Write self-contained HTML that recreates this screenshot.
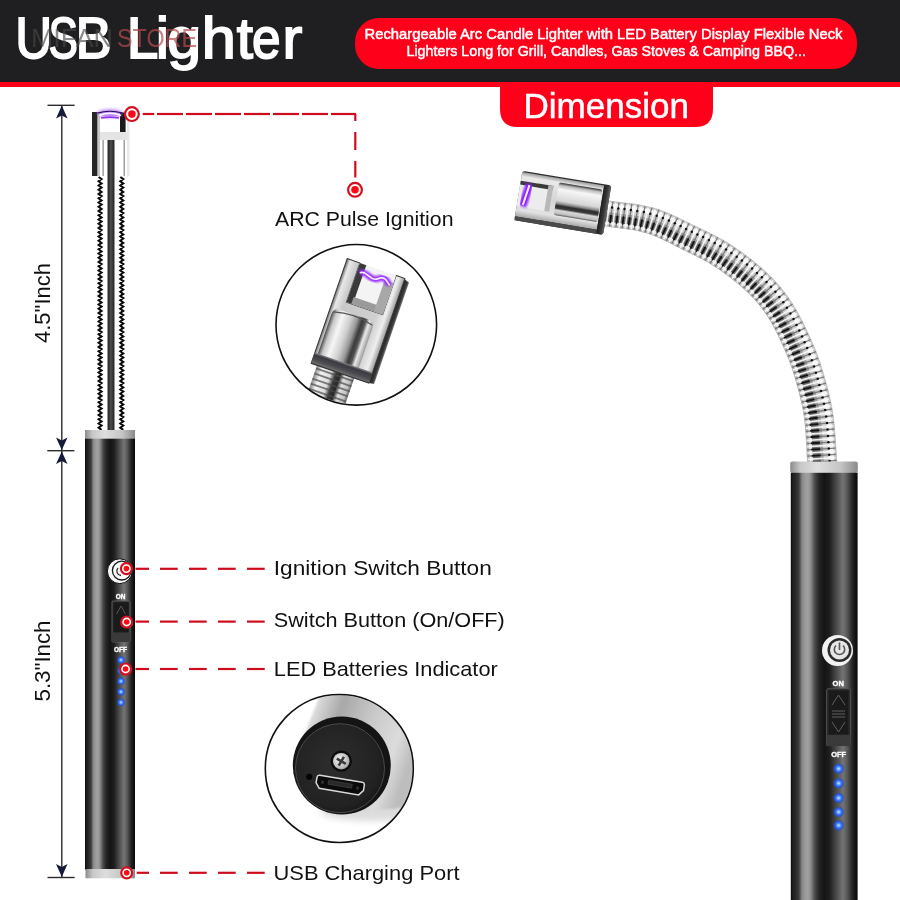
<!DOCTYPE html>
<html><head><meta charset="utf-8">
<style>
html,body{margin:0;padding:0;background:#fff;width:900px;height:900px;overflow:hidden}
svg{display:block;will-change:transform}
text{font-family:"Liberation Sans",sans-serif}
</style></head>
<body>
<svg width="900" height="900" viewBox="0 0 900 900">
<defs>
  <linearGradient id="bodyG" x1="0" x2="1" y1="0" y2="0">
    <stop offset="0" stop-color="#080808"/>
    <stop offset="0.02" stop-color="#1a1a1a"/>
    <stop offset="0.08" stop-color="#2c2c2c"/>
    <stop offset="0.12" stop-color="#3c3c3c"/>
    <stop offset="0.17" stop-color="#8a8a8a"/>
    <stop offset="0.22" stop-color="#9c9c9c"/>
    <stop offset="0.26" stop-color="#a0a0a0"/>
    <stop offset="0.3" stop-color="#8a8a8a"/>
    <stop offset="0.36" stop-color="#4a4a4a"/>
    <stop offset="0.42" stop-color="#262626"/>
    <stop offset="0.5" stop-color="#141414"/>
    <stop offset="0.58" stop-color="#1e1e1e"/>
    <stop offset="0.68" stop-color="#4a4a4a"/>
    <stop offset="0.78" stop-color="#747474"/>
    <stop offset="0.84" stop-color="#5a5a5a"/>
    <stop offset="0.92" stop-color="#262626"/>
    <stop offset="0.97" stop-color="#111111"/>
    <stop offset="1" stop-color="#080808"/>
  </linearGradient>
  <linearGradient id="ringG" x1="0" x2="1" y1="0" y2="0">
    <stop offset="0" stop-color="#8c8c8c"/>
    <stop offset="0.15" stop-color="#c8c8c8"/>
    <stop offset="0.4" stop-color="#dedede"/>
    <stop offset="0.75" stop-color="#c4c4c4"/>
    <stop offset="1" stop-color="#8a8a8a"/>
  </linearGradient>

  <linearGradient id="bodyG2" x1="0" x2="1" y1="0" y2="0">
    <stop offset="0" stop-color="#080808"/>
    <stop offset="0.02" stop-color="#1a1a1a"/>
    <stop offset="0.08" stop-color="#2c2c2c"/>
    <stop offset="0.12" stop-color="#3c3c3c"/>
    <stop offset="0.17" stop-color="#8a8a8a"/>
    <stop offset="0.22" stop-color="#9c9c9c"/>
    <stop offset="0.26" stop-color="#a0a0a0"/>
    <stop offset="0.3" stop-color="#8a8a8a"/>
    <stop offset="0.36" stop-color="#4a4a4a"/>
    <stop offset="0.42" stop-color="#262626"/>
    <stop offset="0.5" stop-color="#141414"/>
    <stop offset="0.58" stop-color="#1e1e1e"/>
    <stop offset="0.68" stop-color="#4a4a4a"/>
    <stop offset="0.78" stop-color="#747474"/>
    <stop offset="0.84" stop-color="#5a5a5a"/>
    <stop offset="0.92" stop-color="#262626"/>
    <stop offset="0.97" stop-color="#111111"/>
    <stop offset="1" stop-color="#080808"/>
  </linearGradient>
  <linearGradient id="headV" x1="0" x2="0" y1="0" y2="1">
    <stop offset="0" stop-color="#9a9a9a"/>
    <stop offset="0.08" stop-color="#e8e8e8"/>
    <stop offset="0.5" stop-color="#cfcfcf"/>
    <stop offset="0.85" stop-color="#a0a0a0"/>
    <stop offset="1" stop-color="#3a3a3a"/>
  </linearGradient>
  <linearGradient id="barrelV" x1="0" x2="0" y1="0" y2="1">
    <stop offset="0" stop-color="#7a7a7a"/>
    <stop offset="0.2" stop-color="#f2f2f2"/>
    <stop offset="0.45" stop-color="#bdbdbd"/>
    <stop offset="0.7" stop-color="#6a6a6a"/>
    <stop offset="0.85" stop-color="#d8d8d8"/>
    <stop offset="1" stop-color="#8a8a8a"/>
  </linearGradient>
  <radialGradient id="ledG">
    <stop offset="0" stop-color="#d8ecff"/>
    <stop offset="0.3" stop-color="#5a9aff"/>
    <stop offset="0.55" stop-color="#2a62ff"/>
    <stop offset="0.8" stop-color="#1d4fd0" stop-opacity="0.5"/>
    <stop offset="1" stop-color="#1d4fd0" stop-opacity="0"/>
  </radialGradient>

  <filter id="blur2" x="-50%" y="-50%" width="200%" height="200%"><feGaussianBlur stdDeviation="1.6"/></filter>
  <filter id="blur1" x="-50%" y="-50%" width="200%" height="200%"><feGaussianBlur stdDeviation="0.9"/></filter>

  <linearGradient id="rheadV" x1="0" x2="0" y1="0" y2="1">
    <stop offset="0" stop-color="#9a9a9a"/>
    <stop offset="0.1" stop-color="#eaeaea"/>
    <stop offset="0.5" stop-color="#d4d4d4"/>
    <stop offset="0.85" stop-color="#e2e2e2"/>
    <stop offset="1" stop-color="#a8a8a8"/>
  </linearGradient>
  <linearGradient id="rbarrel" x1="0" x2="0" y1="0" y2="1">
    <stop offset="0" stop-color="#333"/>
    <stop offset="0.08" stop-color="#bdbdbd"/>
    <stop offset="0.2" stop-color="#f6f6f6"/>
    <stop offset="0.55" stop-color="#d6d6d6"/>
    <stop offset="0.64" stop-color="#8a8a8a"/>
    <stop offset="0.7" stop-color="#2e2e2e"/>
    <stop offset="0.78" stop-color="#3a3a3a"/>
    <stop offset="0.84" stop-color="#d8d8d8"/>
    <stop offset="0.94" stop-color="#c0c0c0"/>
    <stop offset="1" stop-color="#555"/>
  </linearGradient>
  <linearGradient id="rend" x1="0" x2="1" y1="0" y2="0">
    <stop offset="0" stop-color="#1c1c1c"/>
    <stop offset="0.6" stop-color="#3a3a3a"/>
    <stop offset="1" stop-color="#6a6a6a"/>
  </linearGradient>

  <filter id="blur3" x="-50%" y="-50%" width="200%" height="200%"><feGaussianBlur stdDeviation="3"/></filter>

  <linearGradient id="coilA" x1="0" x2="1" y1="0" y2="0">
    <stop offset="0" stop-color="#8a8a8a"/>
    <stop offset="0.15" stop-color="#f2f2f2"/>
    <stop offset="0.4" stop-color="#dcdcdc"/>
    <stop offset="0.52" stop-color="#3a3a3a"/>
    <stop offset="0.64" stop-color="#262626"/>
    <stop offset="0.75" stop-color="#e0e0e0"/>
    <stop offset="0.92" stop-color="#c0c0c0"/>
    <stop offset="1" stop-color="#666"/>
  </linearGradient>
  <linearGradient id="sideA" x1="0" x2="1" y1="0" y2="0">
    <stop offset="0" stop-color="#1e1e1e"/>
    <stop offset="0.7" stop-color="#3a3a3a"/>
    <stop offset="1" stop-color="#777"/>
  </linearGradient>
  <linearGradient id="rimA" x1="0" x2="0" y1="0" y2="1">
    <stop offset="0" stop-color="#8a8a8a"/>
    <stop offset="0.2" stop-color="#3a3a40"/>
    <stop offset="0.6" stop-color="#4a4a50"/>
    <stop offset="0.9" stop-color="#6a6a6a"/>
    <stop offset="1" stop-color="#2a2a2a"/>
  </linearGradient>
  <linearGradient id="floorU" x1="0" x2="0" y1="0" y2="1">
    <stop offset="0" stop-color="#e4e4e4"/>
    <stop offset="0.5" stop-color="#f2f2f2"/>
    <stop offset="1" stop-color="#fbfbfb"/>
  </linearGradient>
  <linearGradient id="chromeA" x1="0" x2="1" y1="0" y2="0">
    <stop offset="0" stop-color="#6a6a6a"/>
    <stop offset="0.06" stop-color="#e8e8e8"/>
    <stop offset="0.2" stop-color="#c8c8c8"/>
    <stop offset="0.75" stop-color="#d0d0d0"/>
    <stop offset="0.9" stop-color="#eeeeee"/>
    <stop offset="1" stop-color="#9a9a9a"/>
  </linearGradient>
  <linearGradient id="barrelA" x1="0" x2="1" y1="0" y2="0">
    <stop offset="0" stop-color="#4a4a4a"/>
    <stop offset="0.1" stop-color="#c8c8c8"/>
    <stop offset="0.25" stop-color="#f6f6f6"/>
    <stop offset="0.45" stop-color="#d0d0d0"/>
    <stop offset="0.6" stop-color="#9a9a9a"/>
    <stop offset="0.72" stop-color="#3a3a3a"/>
    <stop offset="0.8" stop-color="#555"/>
    <stop offset="0.88" stop-color="#eaeaea"/>
    <stop offset="1" stop-color="#9a9a9a"/>
  </linearGradient>
  <linearGradient id="silverU" x1="0" y1="0" x2="1" y2="0.35">
    <stop offset="0" stop-color="#ffffff"/>
    <stop offset="0.12" stop-color="#e8e8e8"/>
    <stop offset="0.35" stop-color="#a8a8a8"/>
    <stop offset="0.6" stop-color="#c8c8c8"/>
    <stop offset="0.85" stop-color="#dcdcdc"/>
    <stop offset="1" stop-color="#bdbdbd"/>
  </linearGradient>
  <radialGradient id="faceU" cx="0.45" cy="0.45" r="0.6">
    <stop offset="0" stop-color="#2e2e2e"/>
    <stop offset="0.8" stop-color="#222"/>
    <stop offset="1" stop-color="#161616"/>
  </radialGradient>
  <radialGradient id="screwU" cx="0.4" cy="0.4" r="0.7">
    <stop offset="0" stop-color="#f4f4f4"/>
    <stop offset="0.7" stop-color="#bdbdbd"/>
    <stop offset="1" stop-color="#888"/>
  </radialGradient>
</defs>
<!-- header -->
<rect x="0" y="0" width="900" height="82" fill="#1f1f21"/>
<rect x="0" y="82" width="900" height="5" fill="#fe0019"/>
<g font-size="58" fill="#fff" stroke="#fff" stroke-width="1.8"><text transform="translate(15.2 57.8) scale(0.882 1)" stroke="#1f1f21" stroke-width="4.6" fill="#1f1f21">U</text><text transform="translate(15.2 57.8) scale(0.882 1)">U</text><text transform="translate(48.5 57.8) scale(0.763 1)" stroke="#1f1f21" stroke-width="4.6" fill="#1f1f21">S</text><text transform="translate(48.5 57.8) scale(0.763 1)">S</text><text transform="translate(75.5 57.8) scale(0.938 1)" stroke="#1f1f21" stroke-width="4.6" fill="#1f1f21">B</text><text transform="translate(75.5 57.8) scale(0.938 1)">B</text><text transform="translate(126.5 57.8) scale(1.026 1)" stroke="#1f1f21" stroke-width="4.6" fill="#1f1f21">L</text><text transform="translate(126.5 57.8) scale(1.026 1)">L</text><text transform="translate(155.8 57.8) scale(1.029 1)" stroke="#1f1f21" stroke-width="4.6" fill="#1f1f21">i</text><text transform="translate(155.8 57.8) scale(1.029 1)">i</text><text transform="translate(167.3 57.8) scale(1.052 1)" stroke="#1f1f21" stroke-width="4.6" fill="#1f1f21">g</text><text transform="translate(167.3 57.8) scale(1.052 1)">g</text><text transform="translate(201.7 57.8) scale(1.058 1)" stroke="#1f1f21" stroke-width="4.6" fill="#1f1f21">h</text><text transform="translate(201.7 57.8) scale(1.058 1)">h</text><text transform="translate(236.7 57.8) scale(1.006 1)" stroke="#1f1f21" stroke-width="4.6" fill="#1f1f21">t</text><text transform="translate(236.7 57.8) scale(1.006 1)">t</text><text transform="translate(252.0 57.8) scale(0.886 1)" stroke="#1f1f21" stroke-width="4.6" fill="#1f1f21">e</text><text transform="translate(252.0 57.8) scale(0.886 1)">e</text><text transform="translate(282.5 57.8) scale(1.025 1)" stroke="#1f1f21" stroke-width="4.6" fill="#1f1f21">r</text><text transform="translate(282.5 57.8) scale(1.025 1)">r</text></g>
<g font-size="26">
  <text x="31" y="47" fill="#474747" fill-opacity="0.63" textLength="82" lengthAdjust="spacingAndGlyphs">MIFAN</text>
  <text x="117" y="47" fill="#b84a50" fill-opacity="0.7" textLength="80" lengthAdjust="spacingAndGlyphs">STORE</text>
</g>
<rect x="355" y="18" width="502" height="51" rx="24" fill="#fe0019"/>
<g font-size="15.5" fill="#fff" stroke="#fff" stroke-width="0.5">
  <text x="364.5" y="38.6" textLength="478" lengthAdjust="spacingAndGlyphs">Rechargeable Arc Candle Lighter with LED Battery Display Flexible Neck</text>
  <text x="406.5" y="56.3" textLength="399.5" lengthAdjust="spacingAndGlyphs">Lighters Long for Grill, Candles, Gas Stoves &amp; Camping BBQ...</text>
</g>
<path d="M500 85 H713 V109 Q713 127 695 127 H518 Q500 127 500 109 Z" fill="#fe0019"/>
<text x="523.5" y="117.8" font-size="34.5" fill="#fff" stroke="#fff" stroke-width="0.5" textLength="165.5" lengthAdjust="spacingAndGlyphs">Dimension</text>


<!-- dimension lines -->
<g stroke="#2b2b2b" stroke-width="1.4" fill="none">
  <line x1="61.8" y1="106" x2="61.8" y2="877"/>
  <line x1="47.5" y1="105.3" x2="74.6" y2="105.3"/>
  <line x1="47.3" y1="450.7" x2="74.4" y2="450.7"/>
  <line x1="47.5" y1="877.5" x2="74.7" y2="877.5"/>
</g>
<g fill="#151a3a">
  <path d="M61.8 105.5 L67.5 118.5 L61.8 115.5 L56 118.5 Z"/>
  <path d="M61.8 450 L67.5 437.5 L61.8 440.5 L56 437.5 Z"/>
  <path d="M61.8 451.4 L67.5 464 L61.8 461 L56 464 Z"/>
  <path d="M61.8 877 L67.5 864 L61.8 867 L56 864 Z"/>
</g>
<text transform="translate(49.8 343) rotate(-90)" font-size="22" fill="#111" textLength="80" lengthAdjust="spacingAndGlyphs">4.5"Inch</text>
<text transform="translate(49.8 701.5) rotate(-90)" font-size="22" fill="#111" textLength="81" lengthAdjust="spacingAndGlyphs">5.3"Inch</text>


<!-- left lighter neck -->
<g id="leftNeck">
  <rect x="107.5" y="140" width="7" height="291" fill="#2e2e2e"/>
  <rect x="109.5" y="140" width="3" height="291" fill="#474747"/>
</g>

<polyline points="98.6,177.00 101.6,179.12 98.6,181.25 101.6,183.38 98.6,185.50 101.6,187.62 98.6,189.75 101.6,191.88 98.6,194.00 101.6,196.12 98.6,198.25 101.6,200.38 98.6,202.50 101.6,204.62 98.6,206.75 101.6,208.88 98.6,211.00 101.6,213.12 98.6,215.25 101.6,217.38 98.6,219.50 101.6,221.62 98.6,223.75 101.6,225.88 98.6,228.00 101.6,230.12 98.6,232.25 101.6,234.38 98.6,236.50 101.6,238.62 98.6,240.75 101.6,242.88 98.6,245.00 101.6,247.12 98.6,249.25 101.6,251.38 98.6,253.50 101.6,255.62 98.6,257.75 101.6,259.88 98.6,262.00 101.6,264.12 98.6,266.25 101.6,268.38 98.6,270.50 101.6,272.62 98.6,274.75 101.6,276.88 98.6,279.00 101.6,281.12 98.6,283.25 101.6,285.38 98.6,287.50 101.6,289.62 98.6,291.75 101.6,293.88 98.6,296.00 101.6,298.12 98.6,300.25 101.6,302.38 98.6,304.50 101.6,306.62 98.6,308.75 101.6,310.88 98.6,313.00 101.6,315.12 98.6,317.25 101.6,319.38 98.6,321.50 101.6,323.62 98.6,325.75 101.6,327.88 98.6,330.00 101.6,332.12 98.6,334.25 101.6,336.38 98.6,338.50 101.6,340.62 98.6,342.75 101.6,344.88 98.6,347.00 101.6,349.12 98.6,351.25 101.6,353.38 98.6,355.50 101.6,357.62 98.6,359.75 101.6,361.88 98.6,364.00 101.6,366.12 98.6,368.25 101.6,370.38 98.6,372.50 101.6,374.62 98.6,376.75 101.6,378.88 98.6,381.00 101.6,383.12 98.6,385.25 101.6,387.38 98.6,389.50 101.6,391.62 98.6,393.75 101.6,395.88 98.6,398.00 101.6,400.12 98.6,402.25 101.6,404.38 98.6,406.50 101.6,408.62 98.6,410.75 101.6,412.88 98.6,415.00 101.6,417.12 98.6,419.25 101.6,421.38 98.6,423.50 101.6,425.62 98.6,427.75 101.6,429.88" fill="none" stroke="#0a0a0a" stroke-width="2"/>
<polyline points="120.3,177.00 123.3,179.12 120.3,181.25 123.3,183.38 120.3,185.50 123.3,187.62 120.3,189.75 123.3,191.88 120.3,194.00 123.3,196.12 120.3,198.25 123.3,200.38 120.3,202.50 123.3,204.62 120.3,206.75 123.3,208.88 120.3,211.00 123.3,213.12 120.3,215.25 123.3,217.38 120.3,219.50 123.3,221.62 120.3,223.75 123.3,225.88 120.3,228.00 123.3,230.12 120.3,232.25 123.3,234.38 120.3,236.50 123.3,238.62 120.3,240.75 123.3,242.88 120.3,245.00 123.3,247.12 120.3,249.25 123.3,251.38 120.3,253.50 123.3,255.62 120.3,257.75 123.3,259.88 120.3,262.00 123.3,264.12 120.3,266.25 123.3,268.38 120.3,270.50 123.3,272.62 120.3,274.75 123.3,276.88 120.3,279.00 123.3,281.12 120.3,283.25 123.3,285.38 120.3,287.50 123.3,289.62 120.3,291.75 123.3,293.88 120.3,296.00 123.3,298.12 120.3,300.25 123.3,302.38 120.3,304.50 123.3,306.62 120.3,308.75 123.3,310.88 120.3,313.00 123.3,315.12 120.3,317.25 123.3,319.38 120.3,321.50 123.3,323.62 120.3,325.75 123.3,327.88 120.3,330.00 123.3,332.12 120.3,334.25 123.3,336.38 120.3,338.50 123.3,340.62 120.3,342.75 123.3,344.88 120.3,347.00 123.3,349.12 120.3,351.25 123.3,353.38 120.3,355.50 123.3,357.62 120.3,359.75 123.3,361.88 120.3,364.00 123.3,366.12 120.3,368.25 123.3,370.38 120.3,372.50 123.3,374.62 120.3,376.75 123.3,378.88 120.3,381.00 123.3,383.12 120.3,385.25 123.3,387.38 120.3,389.50 123.3,391.62 120.3,393.75 123.3,395.88 120.3,398.00 123.3,400.12 120.3,402.25 123.3,404.38 120.3,406.50 123.3,408.62 120.3,410.75 123.3,412.88 120.3,415.00 123.3,417.12 120.3,419.25 123.3,421.38 120.3,423.50 123.3,425.62 120.3,427.75 123.3,429.88" fill="none" stroke="#0a0a0a" stroke-width="2"/>
<!-- left head -->
<g id="leftHead">
  <rect x="92" y="112" width="5.6" height="64" fill="#262626"/>
  <rect x="97.6" y="112" width="2.4" height="64" fill="#c8c8c8"/>
  <rect x="100" y="132" width="27" height="8" fill="#e4e4e4"/>
  <rect x="120" y="112.5" width="5.6" height="19.5" fill="#1a1a1a"/>
  <rect x="102.5" y="140" width="1.2" height="36" fill="#888"/>
  <rect x="123.6" y="140" width="1.2" height="36" fill="#888"/>
  <rect x="127" y="112" width="2.5" height="64" fill="#e8e8e8"/>
  <ellipse cx="110" cy="113.5" rx="13" ry="4.2" fill="#9a40ff" filter="url(#blur2)" opacity="0.65"/>
  <path d="M97.5 113 Q110 109.5 122.5 113" stroke="#2a0a50" stroke-width="1.2" fill="none"/>
  <path d="M99 115.5 Q110 111 121 115.5" stroke="#fff" stroke-width="1.6" fill="none"/>
  <path d="M101 118 Q110 116.5 119 118" stroke="#7a10e0" stroke-width="1.4" fill="none" opacity="0.8"/>
</g>

<!-- left body -->
<rect x="85" y="430" width="50" height="9" fill="url(#ringG)"/>
<rect x="85" y="438.7" width="50" height="431" fill="url(#bodyG)"/>
<rect x="85.5" y="869" width="49.5" height="9.3" fill="url(#ringG)"/>
<!-- left body features -->
<circle cx="119.8" cy="571.2" r="12.4" fill="#f6f6f6" stroke="#0c0c0c" stroke-width="1"/>
<circle cx="121.8" cy="570.6" r="9.4" fill="#fbfbfb" stroke="#1a1a1a" stroke-width="1.3"/>
<path d="M118 568 A4.5 4.5 0 0 0 121 575.5" stroke="#333" stroke-width="1.3" fill="none"/>
<text x="120.5" y="598.5" font-size="6.5" font-weight="bold" fill="#fff" stroke="#fff" stroke-width="0.35" text-anchor="middle">ON</text>
<rect x="112" y="601" width="18" height="41" rx="1" fill="#262626" stroke="#6a6a6a" stroke-width="0.8"/>
<rect x="113.5" y="602.5" width="15" height="30" fill="#1a1a1a"/>
<rect x="112" y="632.5" width="18" height="9.5" fill="#3a3a3a"/>
<path d="M116.5 614 L121 606 L125.5 614" stroke="#666" stroke-width="0.8" fill="none"/>
<text x="120.5" y="651.5" font-size="6.5" font-weight="bold" fill="#fff" stroke="#fff" stroke-width="0.35" text-anchor="middle">OFF</text>
<circle cx="121" cy="660" r="4.6" fill="url(#ledG)"/>
<circle cx="121" cy="670.6" r="4.6" fill="url(#ledG)"/>
<circle cx="121" cy="681.2" r="4.6" fill="url(#ledG)"/>
<circle cx="121" cy="691.8" r="4.6" fill="url(#ledG)"/>
<circle cx="121" cy="702.4" r="4.6" fill="url(#ledG)"/>

<!-- guides -->
<g stroke="#cf0c1e" stroke-width="2.2" fill="none">
<line x1="142.7" y1="114" x2="154.3" y2="114"/>
<line x1="157" y1="114" x2="183" y2="114"/>
<line x1="186" y1="114" x2="212" y2="114"/>
<line x1="215" y1="114" x2="241" y2="114"/>
<line x1="244" y1="114" x2="270" y2="114"/>
<line x1="273" y1="114" x2="299" y2="114"/>
<line x1="302" y1="114" x2="328" y2="114"/>
<line x1="331" y1="114" x2="356" y2="114"/>
<polyline points="355.3,114 355.3,121"/>
<line x1="355.3" y1="132" x2="355.3" y2="150"/>
<line x1="355.3" y1="161" x2="355.3" y2="177.5"/>
<line x1="135.5" y1="568.8" x2="149" y2="568.8"/>
<line x1="160" y1="568.8" x2="177.7" y2="568.8"/>
<line x1="189" y1="568.8" x2="206.7" y2="568.8"/>
<line x1="218" y1="568.8" x2="235.7" y2="568.8"/>
<line x1="247" y1="568.8" x2="264.7" y2="568.8"/>
<line x1="135.5" y1="621.6" x2="149" y2="621.6"/>
<line x1="160" y1="621.6" x2="177.7" y2="621.6"/>
<line x1="189" y1="621.6" x2="206.7" y2="621.6"/>
<line x1="218" y1="621.6" x2="235.7" y2="621.6"/>
<line x1="247" y1="621.6" x2="264.7" y2="621.6"/>
<line x1="135.5" y1="669" x2="149" y2="669"/>
<line x1="160" y1="669" x2="177.7" y2="669"/>
<line x1="189" y1="669" x2="206.7" y2="669"/>
<line x1="218" y1="669" x2="235.7" y2="669"/>
<line x1="247" y1="669" x2="264.7" y2="669"/>
<line x1="136.7" y1="872.8" x2="149" y2="872.8"/>
<line x1="160" y1="872.8" x2="177.7" y2="872.8"/>
<line x1="189" y1="872.8" x2="206.7" y2="872.8"/>
<line x1="218" y1="872.8" x2="235.7" y2="872.8"/>
<line x1="247" y1="872.8" x2="264.7" y2="872.8"/>
</g>
<circle cx="131.9" cy="114.1" r="6.9" fill="#fff" stroke="#d3101e" stroke-width="2.2"/><circle cx="131.9" cy="114.1" r="3.8" fill="#ff0a14"/>
<circle cx="355" cy="189.8" r="6.9" fill="#fff" stroke="#d3101e" stroke-width="2.2"/><circle cx="355" cy="189.8" r="3.8" fill="#ff0a14"/>
<circle cx="126.4" cy="568.6" r="5.5" fill="#fff" stroke="#d3101e" stroke-width="2.2"/><circle cx="126.4" cy="568.6" r="2.8" fill="#ff0a14"/>
<circle cx="126.7" cy="622" r="5.5" fill="#fff" stroke="#d3101e" stroke-width="2.2"/><circle cx="126.7" cy="622" r="2.8" fill="#ff0a14"/>
<circle cx="125.6" cy="669" r="5.5" fill="#fff" stroke="#d3101e" stroke-width="2.2"/><circle cx="125.6" cy="669" r="2.8" fill="#ff0a14"/>
<circle cx="126.7" cy="872.8" r="5.5" fill="#fff" stroke="#d3101e" stroke-width="2.2"/><circle cx="126.7" cy="872.8" r="2.8" fill="#ff0a14"/>
<g font-size="21" fill="#111">
  <text x="275" y="226" textLength="178.5" lengthAdjust="spacingAndGlyphs">ARC Pulse Ignition</text>
  <text x="273.8" y="575.3" textLength="218" lengthAdjust="spacingAndGlyphs">Ignition Switch Button</text>
  <text x="273.8" y="627.3" textLength="231" lengthAdjust="spacingAndGlyphs">Switch Button (On/OFF)</text>
  <text x="273.8" y="675.6" textLength="224" lengthAdjust="spacingAndGlyphs">LED Batteries Indicator</text>
  <text x="273.5" y="880.4" textLength="186" lengthAdjust="spacingAndGlyphs">USB Charging Port</text>
</g>


<clipPath id="clipA"><circle cx="356.3" cy="324.8" r="79.5"/></clipPath>
<circle cx="356.3" cy="324.8" r="80.3" fill="#fff"/>
<g clip-path="url(#clipA)">
<g transform="translate(347.2 258.6) rotate(19) scale(1.035)">
<rect x="6" y="100" width="38" height="60" fill="url(#coilA)"/>
<rect x="6" y="104.0" width="38" height="1.8" fill="#4a4a4a" opacity="0.7"/>
<rect x="6" y="109.2" width="38" height="1.8" fill="#4a4a4a" opacity="0.7"/>
<rect x="6" y="114.4" width="38" height="1.8" fill="#4a4a4a" opacity="0.7"/>
<rect x="6" y="119.6" width="38" height="1.8" fill="#4a4a4a" opacity="0.7"/>
<rect x="6" y="124.8" width="38" height="1.8" fill="#4a4a4a" opacity="0.7"/>
<rect x="6" y="130.0" width="38" height="1.8" fill="#4a4a4a" opacity="0.7"/>
<rect x="6" y="135.2" width="38" height="1.8" fill="#4a4a4a" opacity="0.7"/>
<rect x="6" y="140.4" width="38" height="1.8" fill="#4a4a4a" opacity="0.7"/>
<rect x="6" y="145.6" width="38" height="1.8" fill="#4a4a4a" opacity="0.7"/>
<rect x="6" y="150.8" width="38" height="1.8" fill="#4a4a4a" opacity="0.7"/>
<rect x="6" y="156.0" width="38" height="1.8" fill="#4a4a4a" opacity="0.7"/>
<rect x="6" y="161.2" width="38" height="1.8" fill="#4a4a4a" opacity="0.7"/>
<path d="M58 0.5 L64 2.5 L64 106 L58 107 Z" fill="url(#sideA)"/>
<path d="M0 0 H13 V40 H50 V0 H59 V107 H0 Z" fill="url(#chromeA)" stroke="#3a3a3a" stroke-width="1"/>
<rect x="13" y="0" width="37" height="40" fill="#f4f4f4"/>
<rect x="13" y="0" width="6.5" height="40" fill="#3a3a3a"/>
<path d="M18 33 H50 V40 H18 Z" fill="#9a9a9a"/>
<path d="M41 8 H50 V40 H41 Z" fill="#a8a8a8"/>
<path d="M3 56 Q3 49 10 49 H38 Q45 49 45 56 V100 H3 Z" fill="url(#barrelA)"/>
<path d="M4 53 Q24 47 44 53" stroke="#555" stroke-width="1.2" fill="none"/>
<rect x="0" y="96" width="59" height="11" fill="url(#rimA)"/>
<path d="M16 9 C 22 4, 28 14, 34 9 S 42 7, 47 11" stroke="#9a2cff" stroke-width="6" fill="none" filter="url(#blur1)"/>
<path d="M16 9 C 22 4, 28 14, 34 9 S 42 7, 47 11" stroke="#f6ecff" stroke-width="1.6" fill="none"/>
</g>
</g>
<circle cx="356.3" cy="324.8" r="80.3" fill="none" stroke="#111" stroke-width="1.6"/>
<clipPath id="clipU"><circle cx="339.3" cy="768.5" r="73.2"/></clipPath>
<circle cx="339.3" cy="768.5" r="74" fill="#fff"/>
<g clip-path="url(#clipU)">
<ellipse cx="372" cy="812" rx="52" ry="9" fill="#dcdcdc" filter="url(#blur3)"/>
<polygon points="322,690 420,690 420,806 362,812 300,745" fill="url(#silverU)" filter="url(#blur1)"/>
<ellipse cx="341.8" cy="765.5" rx="49" ry="49" fill="#141414"/>
<circle cx="340" cy="768.2" r="44.5" fill="url(#faceU)"/>
<circle cx="340" cy="768.2" r="44.5" fill="none" stroke="#4a4a4a" stroke-width="1"/>
<circle cx="341.3" cy="761.2" r="10.6" fill="#0c0c0c"/>
<circle cx="341.3" cy="761.2" r="8.3" fill="url(#screwU)"/>
<path d="M336.8 758.6 L345.8 763.8 M338.7 765.6 L343.9 756.8" stroke="#3a3a3a" stroke-width="2.6"/>
<g transform="translate(340 785.2) rotate(9.5)">
<path d="M-21.5 -6.5 H21.5 Q24 -6.5 24 -4 V1.5 L20 6.5 H-20 L-24 1.5 V-4 Q-24 -6.5 -21.5 -6.5 Z" fill="#0a0a0a" stroke="#d8d8d8" stroke-width="1.5"/>
<rect x="-12" y="-3" width="24" height="4" fill="#2a2a2a" stroke="#444" stroke-width="0.6"/>
<rect x="-19" y="-1.5" width="2.5" height="3" fill="#333"/><rect x="16.5" y="-1.5" width="2.5" height="3" fill="#333"/>
</g>
<circle cx="309.2" cy="776.8" r="3.1" fill="#050505"/>
</g>
<circle cx="339.3" cy="768.5" r="74" fill="none" stroke="#111" stroke-width="1.6"/>
<!-- right lighter -->
<g id="goose">
<polygon points="606.1,200.2 609.0,200.6 611.8,201.0 614.8,201.4 617.8,201.7 620.8,202.1 623.8,202.4 626.9,202.8 630.1,203.2 633.2,203.6 636.5,204.1 639.7,204.6 643.0,205.2 646.2,205.9 649.6,206.7 653.0,207.6 656.4,208.6 659.6,209.6 662.8,210.8 666.0,212.0 669.1,213.3 672.0,214.6 675.0,216.0 677.9,217.3 680.8,218.7 683.6,220.1 686.4,221.5 689.1,222.8 691.8,224.2 694.5,225.5 697.2,226.8 699.9,228.1 702.7,229.4 705.5,230.7 708.4,232.1 711.2,233.5 714.1,234.9 717.0,236.5 719.8,238.0 722.7,239.6 725.6,241.3 728.5,243.0 731.2,244.8 733.9,246.6 736.6,248.4 739.3,250.2 741.9,252.1 744.5,254.0 747.0,255.9 749.6,257.8 752.2,259.8 754.7,261.9 757.2,263.9 759.7,266.0 762.2,268.2 764.6,270.4 767.1,272.7 769.5,275.0 771.8,277.3 774.1,279.7 776.4,282.2 778.6,284.7 780.8,287.3 782.9,289.9 784.9,292.5 787.0,295.3 788.9,297.9 790.8,300.7 792.6,303.5 794.4,306.4 796.1,309.3 797.8,312.1 799.4,315.0 800.9,317.9 802.4,320.8 803.8,323.6 805.2,326.5 806.6,329.4 807.9,332.3 809.3,335.1 810.5,337.9 811.8,340.8 813.1,343.8 814.4,346.7 815.7,349.8 816.9,352.8 818.0,355.9 819.1,359.0 820.2,362.1 821.2,365.2 822.1,368.3 823.1,371.3 823.9,374.3 824.8,377.3 825.7,380.3 826.5,383.4 827.4,386.5 828.2,389.6 829.0,392.7 829.7,395.8 830.4,399.0 831.1,402.1 831.8,405.4 832.4,408.6 832.9,411.9 833.4,415.1 833.9,418.4 834.2,421.7 834.6,424.9 834.9,428.1 835.1,431.3 835.4,434.5 835.6,437.6 835.8,440.7 836.0,443.8 836.2,446.8 836.4,449.9 836.6,452.9 836.8,455.9 837.0,458.9 837.3,461.8 807.3,464.2 807.1,461.0 806.9,457.9 806.7,454.7 806.6,451.6 806.4,448.6 806.3,445.5 806.1,442.5 805.9,439.5 805.7,436.5 805.6,433.5 805.3,430.6 805.1,427.7 804.8,424.8 804.5,422.0 804.2,419.2 803.8,416.4 803.4,413.6 802.9,410.8 802.4,408.0 801.8,405.2 801.2,402.3 800.5,399.5 799.8,396.7 799.1,393.8 798.4,391.0 797.6,388.1 796.8,385.3 796.0,382.4 795.2,379.5 794.4,376.6 793.5,373.8 792.7,371.1 791.8,368.4 790.9,365.7 789.9,363.0 788.9,360.4 787.8,357.7 786.7,355.1 785.6,352.4 784.4,349.7 783.2,346.9 781.9,344.2 780.7,341.5 779.5,338.8 778.2,336.2 776.9,333.5 775.6,330.9 774.3,328.4 773.0,325.9 771.6,323.4 770.2,321.0 768.8,318.7 767.3,316.4 765.7,314.0 764.1,311.7 762.5,309.5 760.8,307.3 759.1,305.1 757.3,303.0 755.5,300.8 753.7,298.8 751.7,296.8 749.8,294.7 747.8,292.7 745.8,290.8 743.7,288.9 741.6,287.1 739.4,285.1 737.2,283.3 734.9,281.5 732.7,279.7 730.4,277.9 728.0,276.1 725.7,274.4 723.4,272.7 721.0,271.0 718.6,269.3 716.2,267.7 713.8,266.2 711.4,264.7 709.1,263.3 706.6,261.8 704.1,260.5 701.6,259.1 699.0,257.8 696.4,256.4 693.7,255.1 691.0,253.8 688.2,252.4 685.4,251.1 682.6,249.7 679.8,248.3 677.0,246.9 674.3,245.5 671.6,244.1 668.9,242.7 666.3,241.4 663.7,240.2 661.1,239.0 658.4,237.8 655.9,236.7 653.3,235.7 650.8,234.7 648.2,233.8 645.7,233.0 643.2,232.4 640.6,231.7 637.8,231.1 635.1,230.6 632.3,230.1 629.4,229.7 626.6,229.2 623.6,228.8 620.6,228.4 617.6,228.1 614.5,227.7 611.4,227.2 608.3,226.8 605.1,226.3 601.9,225.8" fill="#e2e2e2"/>
<polygon points="606.1,200.2 609.0,200.6 611.8,201.0 614.8,201.4 617.8,201.7 620.8,202.1 623.8,202.4 626.9,202.8 630.1,203.2 633.2,203.6 636.5,204.1 639.7,204.6 643.0,205.2 646.2,205.9 649.6,206.7 653.0,207.6 656.4,208.6 659.6,209.6 662.8,210.8 666.0,212.0 669.1,213.3 672.0,214.6 675.0,216.0 677.9,217.3 680.8,218.7 683.6,220.1 686.4,221.5 689.1,222.8 691.8,224.2 694.5,225.5 697.2,226.8 699.9,228.1 702.7,229.4 705.5,230.7 708.4,232.1 711.2,233.5 714.1,234.9 717.0,236.5 719.8,238.0 722.7,239.6 725.6,241.3 728.5,243.0 731.2,244.8 733.9,246.6 736.6,248.4 739.3,250.2 741.9,252.1 744.5,254.0 747.0,255.9 749.6,257.8 752.2,259.8 754.7,261.9 757.2,263.9 759.7,266.0 762.2,268.2 764.6,270.4 767.1,272.7 769.5,275.0 771.8,277.3 774.1,279.7 776.4,282.2 778.6,284.7 780.8,287.3 782.9,289.9 784.9,292.5 787.0,295.3 788.9,297.9 790.8,300.7 792.6,303.5 794.4,306.4 796.1,309.3 797.8,312.1 799.4,315.0 800.9,317.9 802.4,320.8 803.8,323.6 805.2,326.5 806.6,329.4 807.9,332.3 809.3,335.1 810.5,337.9 811.8,340.8 813.1,343.8 814.4,346.7 815.7,349.8 816.9,352.8 818.0,355.9 819.1,359.0 820.2,362.1 821.2,365.2 822.1,368.3 823.1,371.3 823.9,374.3 824.8,377.3 825.7,380.3 826.5,383.4 827.4,386.5 828.2,389.6 829.0,392.7 829.7,395.8 830.4,399.0 831.1,402.1 831.8,405.4 832.4,408.6 832.9,411.9 833.4,415.1 833.9,418.4 834.2,421.7 834.6,424.9 834.9,428.1 835.1,431.3 835.4,434.5 835.6,437.6 835.8,440.7 836.0,443.8 836.2,446.8 836.4,449.9 836.6,452.9 836.8,455.9 837.0,458.9 837.3,461.8 834.3,462.1 834.0,459.1 833.8,456.1 833.6,453.1 833.4,450.1 833.2,447.0 833.0,444.0 832.8,440.9 832.6,437.8 832.4,434.7 832.2,431.5 831.9,428.4 831.6,425.2 831.3,422.0 830.9,418.8 830.5,415.5 830.0,412.3 829.5,409.1 828.9,405.9 828.3,402.7 827.6,399.6 826.9,396.5 826.1,393.4 825.4,390.3 824.6,387.2 823.7,384.2 822.9,381.1 822.0,378.1 821.1,375.1 820.3,372.1 819.4,369.1 818.4,366.1 817.4,363.0 816.4,360.0 815.3,356.9 814.2,353.9 813.0,350.8 811.8,347.8 810.5,344.9 809.2,342.0 807.9,339.1 806.6,336.3 805.3,333.5 804.0,330.6 802.6,327.7 801.3,324.9 799.8,322.0 798.4,319.2 796.9,316.4 795.3,313.5 793.7,310.7 792.0,307.8 790.2,305.0 788.4,302.3 786.6,299.6 784.7,296.9 782.7,294.2 780.7,291.7 778.6,289.1 776.5,286.6 774.3,284.1 772.1,281.6 769.8,279.3 767.5,277.0 765.2,274.7 762.8,272.4 760.3,270.2 757.9,268.1 755.5,266.1 753.0,264.0 750.5,262.0 747.9,260.0 745.4,258.1 742.9,256.2 740.3,254.3 737.7,252.5 735.1,250.7 732.4,248.9 729.7,247.1 727.0,245.4 724.2,243.7 721.3,242.0 718.5,240.4 715.7,238.9 712.8,237.4 710.0,235.9 707.2,234.5 704.3,233.2 701.5,231.8 698.8,230.5 696.0,229.2 693.3,227.9 690.6,226.6 687.9,225.3 685.2,223.9 682.4,222.5 679.6,221.1 676.8,219.8 673.9,218.4 670.9,217.0 668.0,215.8 665.0,214.5 661.9,213.3 658.7,212.1 655.6,211.1 652.3,210.1 649.0,209.2 645.7,208.5 642.5,207.8 639.2,207.2 636.1,206.7 632.9,206.2 629.7,205.8 626.6,205.4 623.5,205.0 620.5,204.7 617.4,204.3 614.5,204.0 611.5,203.6 608.6,203.2 605.6,202.7" fill="#c4c4c4" opacity="1"/>
<polygon points="605.6,202.7 608.6,203.2 611.5,203.6 614.5,204.0 617.4,204.3 620.5,204.7 623.5,205.0 626.6,205.4 629.7,205.8 632.9,206.2 636.1,206.7 639.2,207.2 642.5,207.8 645.7,208.5 649.0,209.2 652.3,210.1 655.6,211.1 658.7,212.1 661.9,213.3 665.0,214.5 668.0,215.8 670.9,217.0 673.9,218.4 676.8,219.8 679.6,221.1 682.4,222.5 685.2,223.9 687.9,225.3 690.6,226.6 693.3,227.9 696.0,229.2 698.8,230.5 701.5,231.8 704.3,233.2 707.2,234.5 710.0,235.9 712.8,237.4 715.7,238.9 718.5,240.4 721.3,242.0 724.2,243.7 727.0,245.4 729.7,247.1 732.4,248.9 735.1,250.7 737.7,252.5 740.3,254.3 742.9,256.2 745.4,258.1 747.9,260.0 750.5,262.0 753.0,264.0 755.5,266.1 757.9,268.1 760.3,270.2 762.8,272.4 765.2,274.7 767.5,277.0 769.8,279.3 772.1,281.6 774.3,284.1 776.5,286.6 778.6,289.1 780.7,291.7 782.7,294.2 784.7,296.9 786.6,299.6 788.4,302.3 790.2,305.0 792.0,307.8 793.7,310.7 795.3,313.5 796.9,316.4 798.4,319.2 799.8,322.0 801.3,324.9 802.6,327.7 804.0,330.6 805.3,333.5 806.6,336.3 807.9,339.1 809.2,342.0 810.5,344.9 811.8,347.8 813.0,350.8 814.2,353.9 815.3,356.9 816.4,360.0 817.4,363.0 818.4,366.1 819.4,369.1 820.3,372.1 821.1,375.1 822.0,378.1 822.9,381.1 823.7,384.2 824.6,387.2 825.4,390.3 826.1,393.4 826.9,396.5 827.6,399.6 828.3,402.7 828.9,405.9 829.5,409.1 830.0,412.3 830.5,415.5 830.9,418.8 831.3,422.0 831.6,425.2 831.9,428.4 832.2,431.5 832.4,434.7 832.6,437.8 832.8,440.9 833.0,444.0 833.2,447.0 833.4,450.1 833.6,453.1 833.8,456.1 834.0,459.1 834.3,462.1 829.0,462.5 828.8,459.5 828.6,456.4 828.4,453.4 828.2,450.4 828.0,447.3 827.8,444.3 827.6,441.2 827.4,438.1 827.2,435.0 827.0,431.9 826.7,428.8 826.5,425.7 826.2,422.6 825.8,419.4 825.4,416.2 824.9,413.1 824.4,410.0 823.8,406.9 823.2,403.8 822.6,400.7 821.9,397.6 821.1,394.6 820.4,391.5 819.6,388.5 818.8,385.5 818.0,382.5 817.1,379.5 816.3,376.5 815.4,373.6 814.5,370.6 813.6,367.6 812.6,364.6 811.6,361.6 810.6,358.6 809.4,355.6 808.3,352.7 807.1,349.8 805.9,346.9 804.6,344.0 803.4,341.2 802.1,338.4 800.8,335.5 799.5,332.7 798.1,329.9 796.8,327.1 795.4,324.3 794.0,321.5 792.5,318.7 791.0,315.9 789.4,313.1 787.8,310.4 786.1,307.7 784.3,305.0 782.5,302.4 780.7,299.8 778.8,297.2 776.8,294.7 774.8,292.2 772.8,289.7 770.7,287.4 768.5,285.0 766.3,282.7 764.1,280.4 761.8,278.2 759.5,276.0 757.1,273.9 754.7,271.8 752.3,269.8 749.9,267.8 747.4,265.8 745.0,263.9 742.5,261.9 740.0,260.1 737.4,258.2 734.9,256.4 732.3,254.6 729.7,252.9 727.1,251.1 724.4,249.4 721.7,247.7 719.0,246.1 716.2,244.6 713.4,243.1 710.6,241.6 707.8,240.2 705.1,238.8 702.3,237.4 699.5,236.1 696.7,234.8 694.0,233.5 691.2,232.1 688.5,230.8 685.8,229.5 683.1,228.1 680.3,226.7 677.5,225.3 674.7,224.0 671.9,222.6 669.0,221.3 666.1,220.0 663.2,218.8 660.2,217.6 657.2,216.5 654.1,215.5 651.0,214.6 647.8,213.7 644.7,213.0 641.6,212.4 638.4,211.8 635.3,211.3 632.2,210.8 629.1,210.4 626.0,210.0 623.0,209.6 619.9,209.2 616.9,208.9 613.9,208.5 610.9,208.1 607.9,207.7 604.9,207.2" fill="#f4f4f4" opacity="1"/>
<polygon points="604.9,207.2 607.9,207.7 610.9,208.1 613.9,208.5 616.9,208.9 619.9,209.2 623.0,209.6 626.0,210.0 629.1,210.4 632.2,210.8 635.3,211.3 638.4,211.8 641.6,212.4 644.7,213.0 647.8,213.7 651.0,214.6 654.1,215.5 657.2,216.5 660.2,217.6 663.2,218.8 666.1,220.0 669.0,221.3 671.9,222.6 674.7,224.0 677.5,225.3 680.3,226.7 683.1,228.1 685.8,229.5 688.5,230.8 691.2,232.1 694.0,233.5 696.7,234.8 699.5,236.1 702.3,237.4 705.1,238.8 707.8,240.2 710.6,241.6 713.4,243.1 716.2,244.6 719.0,246.1 721.7,247.7 724.4,249.4 727.1,251.1 729.7,252.9 732.3,254.6 734.9,256.4 737.4,258.2 740.0,260.1 742.5,261.9 745.0,263.9 747.4,265.8 749.9,267.8 752.3,269.8 754.7,271.8 757.1,273.9 759.5,276.0 761.8,278.2 764.1,280.4 766.3,282.7 768.5,285.0 770.7,287.4 772.8,289.7 774.8,292.2 776.8,294.7 778.8,297.2 780.7,299.8 782.5,302.4 784.3,305.0 786.1,307.7 787.8,310.4 789.4,313.1 791.0,315.9 792.5,318.7 794.0,321.5 795.4,324.3 796.8,327.1 798.1,329.9 799.5,332.7 800.8,335.5 802.1,338.4 803.4,341.2 804.6,344.0 805.9,346.9 807.1,349.8 808.3,352.7 809.4,355.6 810.6,358.6 811.6,361.6 812.6,364.6 813.6,367.6 814.5,370.6 815.4,373.6 816.3,376.5 817.1,379.5 818.0,382.5 818.8,385.5 819.6,388.5 820.4,391.5 821.1,394.6 821.9,397.6 822.6,400.7 823.2,403.8 823.8,406.9 824.4,410.0 824.9,413.1 825.4,416.2 825.8,419.4 826.2,422.6 826.5,425.7 826.7,428.8 827.0,431.9 827.2,435.0 827.4,438.1 827.6,441.2 827.8,444.3 828.0,447.3 828.2,450.4 828.4,453.4 828.6,456.4 828.8,459.5 829.0,462.5 824.1,462.9 823.9,459.8 823.7,456.8 823.5,453.7 823.3,450.7 823.1,447.6 822.9,444.5 822.7,441.5 822.5,438.4 822.3,435.3 822.1,432.3 821.9,429.2 821.6,426.1 821.3,423.1 821.0,420.0 820.6,416.9 820.1,413.9 819.6,410.8 819.1,407.8 818.5,404.7 817.8,401.7 817.2,398.7 816.5,395.7 815.7,392.7 814.9,389.7 814.2,386.7 813.3,383.8 812.5,380.8 811.6,377.9 810.8,374.9 809.9,372.0 809.0,369.0 808.1,366.1 807.1,363.1 806.1,360.2 805.0,357.3 803.9,354.4 802.7,351.6 801.5,348.7 800.3,345.9 799.0,343.1 797.8,340.3 796.5,337.5 795.2,334.7 793.9,331.9 792.5,329.1 791.2,326.4 789.8,323.6 788.4,320.9 786.9,318.2 785.4,315.5 783.8,312.8 782.1,310.2 780.4,307.6 778.7,305.0 776.9,302.5 775.1,300.0 773.2,297.6 771.2,295.1 769.2,292.8 767.2,290.4 765.1,288.1 763.0,285.9 760.8,283.7 758.6,281.5 756.3,279.4 754.1,277.3 751.7,275.3 749.4,273.3 747.0,271.3 744.6,269.4 742.2,267.5 739.7,265.6 737.3,263.7 734.8,261.9 732.3,260.1 729.7,258.3 727.2,256.6 724.6,254.9 722.0,253.2 719.4,251.6 716.7,250.0 714.0,248.5 711.3,247.0 708.6,245.6 705.8,244.2 703.1,242.8 700.3,241.5 697.5,240.1 694.8,238.8 692.0,237.5 689.3,236.1 686.5,234.8 683.8,233.4 681.1,232.0 678.3,230.7 675.6,229.3 672.8,227.9 670.0,226.6 667.2,225.3 664.4,224.1 661.5,222.9 658.6,221.7 655.7,220.7 652.8,219.7 649.8,218.8 646.8,218.0 643.7,217.3 640.7,216.6 637.7,216.1 634.6,215.6 631.6,215.1 628.5,214.7 625.5,214.3 622.4,213.9 619.4,213.5 616.3,213.1 613.3,212.8 610.3,212.4 607.3,211.9 604.2,211.5" fill="#cdcdcd" opacity="1"/>
<polygon points="604.2,211.5 607.3,211.9 610.3,212.4 613.3,212.8 616.3,213.1 619.4,213.5 622.4,213.9 625.5,214.3 628.5,214.7 631.6,215.1 634.6,215.6 637.7,216.1 640.7,216.6 643.7,217.3 646.8,218.0 649.8,218.8 652.8,219.7 655.7,220.7 658.6,221.7 661.5,222.9 664.4,224.1 667.2,225.3 670.0,226.6 672.8,227.9 675.6,229.3 678.3,230.7 681.1,232.0 683.8,233.4 686.5,234.8 689.3,236.1 692.0,237.5 694.8,238.8 697.5,240.1 700.3,241.5 703.1,242.8 705.8,244.2 708.6,245.6 711.3,247.0 714.0,248.5 716.7,250.0 719.4,251.6 722.0,253.2 724.6,254.9 727.2,256.6 729.7,258.3 732.3,260.1 734.8,261.9 737.3,263.7 739.7,265.6 742.2,267.5 744.6,269.4 747.0,271.3 749.4,273.3 751.7,275.3 754.1,277.3 756.3,279.4 758.6,281.5 760.8,283.7 763.0,285.9 765.1,288.1 767.2,290.4 769.2,292.8 771.2,295.1 773.2,297.6 775.1,300.0 776.9,302.5 778.7,305.0 780.4,307.6 782.1,310.2 783.8,312.8 785.4,315.5 786.9,318.2 788.4,320.9 789.8,323.6 791.2,326.4 792.5,329.1 793.9,331.9 795.2,334.7 796.5,337.5 797.8,340.3 799.0,343.1 800.3,345.9 801.5,348.7 802.7,351.6 803.9,354.4 805.0,357.3 806.1,360.2 807.1,363.1 808.1,366.1 809.0,369.0 809.9,372.0 810.8,374.9 811.6,377.9 812.5,380.8 813.3,383.8 814.2,386.7 814.9,389.7 815.7,392.7 816.5,395.7 817.2,398.7 817.8,401.7 818.5,404.7 819.1,407.8 819.6,410.8 820.1,413.9 820.6,416.9 821.0,420.0 821.3,423.1 821.6,426.1 821.9,429.2 822.1,432.3 822.3,435.3 822.5,438.4 822.7,441.5 822.9,444.5 823.1,447.6 823.3,450.7 823.5,453.7 823.7,456.8 823.9,459.8 824.1,462.9 821.1,463.1 820.9,460.0 820.7,457.0 820.5,453.9 820.3,450.8 820.1,447.8 819.9,444.7 819.8,441.7 819.6,438.6 819.4,435.5 819.2,432.5 818.9,429.5 818.7,426.4 818.4,423.4 818.0,420.3 817.6,417.3 817.2,414.3 816.7,411.3 816.2,408.3 815.6,405.3 815.0,402.3 814.3,399.3 813.6,396.4 812.9,393.4 812.1,390.5 811.3,387.5 810.5,384.6 809.7,381.6 808.9,378.7 808.0,375.7 807.1,372.8 806.2,369.9 805.3,367.0 804.4,364.1 803.4,361.2 802.3,358.3 801.2,355.5 800.1,352.7 798.9,349.9 797.7,347.1 796.4,344.3 795.2,341.5 793.9,338.7 792.6,335.9 791.3,333.2 790.0,330.4 788.6,327.7 787.3,324.9 785.8,322.2 784.4,319.6 782.9,316.9 781.4,314.3 779.8,311.7 778.1,309.2 776.4,306.6 774.6,304.2 772.8,301.7 771.0,299.3 769.1,296.9 767.1,294.6 765.1,292.3 763.1,290.0 761.0,287.8 758.8,285.6 756.7,283.5 754.5,281.4 752.2,279.4 749.9,277.4 747.6,275.4 745.2,273.4 742.9,271.5 740.5,269.6 738.1,267.8 735.6,265.9 733.2,264.1 730.7,262.4 728.2,260.6 725.7,258.9 723.1,257.2 720.6,255.5 718.0,253.9 715.4,252.4 712.7,250.9 710.0,249.4 707.3,248.0 704.6,246.6 701.9,245.2 699.1,243.9 696.4,242.6 693.6,241.2 690.8,239.9 688.1,238.6 685.3,237.2 682.6,235.8 679.9,234.4 677.1,233.1 674.4,231.7 671.6,230.4 668.9,229.0 666.1,227.8 663.3,226.5 660.5,225.4 657.7,224.2 654.8,223.2 652.0,222.2 649.1,221.3 646.1,220.5 643.2,219.8 640.2,219.2 637.2,218.7 634.2,218.2 631.2,217.7 628.2,217.3 625.1,216.9 622.1,216.5 619.1,216.1 616.0,215.7 613.0,215.3 609.9,214.9 606.9,214.5 603.8,214.0" fill="#9a9a9a" opacity="1"/>
<polygon points="603.8,214.0 606.9,214.5 609.9,214.9 613.0,215.3 616.0,215.7 619.1,216.1 622.1,216.5 625.1,216.9 628.2,217.3 631.2,217.7 634.2,218.2 637.2,218.7 640.2,219.2 643.2,219.8 646.1,220.5 649.1,221.3 652.0,222.2 654.8,223.2 657.7,224.2 660.5,225.4 663.3,226.5 666.1,227.8 668.9,229.0 671.6,230.4 674.4,231.7 677.1,233.1 679.9,234.4 682.6,235.8 685.3,237.2 688.1,238.6 690.8,239.9 693.6,241.2 696.4,242.6 699.1,243.9 701.9,245.2 704.6,246.6 707.3,248.0 710.0,249.4 712.7,250.9 715.4,252.4 718.0,253.9 720.6,255.5 723.1,257.2 725.7,258.9 728.2,260.6 730.7,262.4 733.2,264.1 735.6,265.9 738.1,267.8 740.5,269.6 742.9,271.5 745.2,273.4 747.6,275.4 749.9,277.4 752.2,279.4 754.5,281.4 756.7,283.5 758.8,285.6 761.0,287.8 763.1,290.0 765.1,292.3 767.1,294.6 769.1,296.9 771.0,299.3 772.8,301.7 774.6,304.2 776.4,306.6 778.1,309.2 779.8,311.7 781.4,314.3 782.9,316.9 784.4,319.6 785.8,322.2 787.3,324.9 788.6,327.7 790.0,330.4 791.3,333.2 792.6,335.9 793.9,338.7 795.2,341.5 796.4,344.3 797.7,347.1 798.9,349.9 800.1,352.7 801.2,355.5 802.3,358.3 803.4,361.2 804.4,364.1 805.3,367.0 806.2,369.9 807.1,372.8 808.0,375.7 808.9,378.7 809.7,381.6 810.5,384.6 811.3,387.5 812.1,390.5 812.9,393.4 813.6,396.4 814.3,399.3 815.0,402.3 815.6,405.3 816.2,408.3 816.7,411.3 817.2,414.3 817.6,417.3 818.0,420.3 818.4,423.4 818.7,426.4 818.9,429.5 819.2,432.5 819.4,435.5 819.6,438.6 819.8,441.7 819.9,444.7 820.1,447.8 820.3,450.8 820.5,453.9 820.7,457.0 820.9,460.0 821.1,463.1 813.0,463.7 812.8,460.6 812.6,457.5 812.4,454.4 812.2,451.3 812.1,448.2 811.9,445.2 811.7,442.1 811.6,439.1 811.4,436.1 811.2,433.1 810.9,430.1 810.7,427.2 810.4,424.2 810.1,421.3 809.8,418.4 809.3,415.5 808.9,412.7 808.4,409.8 807.8,406.9 807.2,404.0 806.6,401.1 805.9,398.2 805.2,395.3 804.5,392.4 803.7,389.6 802.9,386.7 802.1,383.8 801.3,380.9 800.5,377.9 799.6,375.0 798.8,372.2 797.9,369.4 797.0,366.6 796.0,363.8 795.0,361.1 794.0,358.4 792.9,355.6 791.7,352.9 790.6,350.2 789.4,347.4 788.1,344.7 786.9,341.9 785.6,339.2 784.4,336.5 783.1,333.8 781.8,331.1 780.4,328.5 779.1,325.8 777.7,323.3 776.3,320.7 774.8,318.2 773.3,315.8 771.7,313.4 770.1,311.0 768.4,308.6 766.8,306.3 765.0,304.0 763.2,301.7 761.4,299.5 759.5,297.3 757.6,295.2 755.6,293.1 753.5,291.0 751.4,288.9 749.4,287.0 747.2,285.0 745.0,283.1 742.8,281.1 740.5,279.2 738.2,277.4 735.9,275.5 733.6,273.7 731.2,271.9 728.8,270.2 726.4,268.4 723.9,266.7 721.5,265.0 719.0,263.4 716.6,261.8 714.1,260.2 711.7,258.8 709.1,257.3 706.5,255.9 704.0,254.5 701.3,253.2 698.6,251.8 695.9,250.5 693.2,249.2 690.4,247.8 687.7,246.5 684.9,245.1 682.1,243.7 679.3,242.3 676.6,240.9 673.9,239.5 671.2,238.2 668.5,236.9 665.8,235.6 663.2,234.3 660.4,233.1 657.8,232.0 655.1,230.9 652.5,230.0 649.7,229.0 647.1,228.2 644.4,227.5 641.7,226.8 638.8,226.2 636.0,225.7 633.1,225.2 630.2,224.7 627.2,224.3 624.2,223.9 621.2,223.5 618.2,223.1 615.1,222.7 612.1,222.3 609.0,221.9 605.8,221.5 602.7,221.0" fill="#6c6c6c" opacity="1"/>
<polygon points="602.7,221.0 605.8,221.5 609.0,221.9 612.1,222.3 615.1,222.7 618.2,223.1 621.2,223.5 624.2,223.9 627.2,224.3 630.2,224.7 633.1,225.2 636.0,225.7 638.8,226.2 641.7,226.8 644.4,227.5 647.1,228.2 649.7,229.0 652.5,230.0 655.1,230.9 657.8,232.0 660.4,233.1 663.2,234.3 665.8,235.6 668.5,236.9 671.2,238.2 673.9,239.5 676.6,240.9 679.3,242.3 682.1,243.7 684.9,245.1 687.7,246.5 690.4,247.8 693.2,249.2 695.9,250.5 698.6,251.8 701.3,253.2 704.0,254.5 706.5,255.9 709.1,257.3 711.7,258.8 714.1,260.2 716.6,261.8 719.0,263.4 721.5,265.0 723.9,266.7 726.4,268.4 728.8,270.2 731.2,271.9 733.6,273.7 735.9,275.5 738.2,277.4 740.5,279.2 742.8,281.1 745.0,283.1 747.2,285.0 749.4,287.0 751.4,288.9 753.5,291.0 755.6,293.1 757.6,295.2 759.5,297.3 761.4,299.5 763.2,301.7 765.0,304.0 766.8,306.3 768.4,308.6 770.1,311.0 771.7,313.4 773.3,315.8 774.8,318.2 776.3,320.7 777.7,323.3 779.1,325.8 780.4,328.5 781.8,331.1 783.1,333.8 784.4,336.5 785.6,339.2 786.9,341.9 788.1,344.7 789.4,347.4 790.6,350.2 791.7,352.9 792.9,355.6 794.0,358.4 795.0,361.1 796.0,363.8 797.0,366.6 797.9,369.4 798.8,372.2 799.6,375.0 800.5,377.9 801.3,380.9 802.1,383.8 802.9,386.7 803.7,389.6 804.5,392.4 805.2,395.3 805.9,398.2 806.6,401.1 807.2,404.0 807.8,406.9 808.4,409.8 808.9,412.7 809.3,415.5 809.8,418.4 810.1,421.3 810.4,424.2 810.7,427.2 810.9,430.1 811.2,433.1 811.4,436.1 811.6,439.1 811.7,442.1 811.9,445.2 812.1,448.2 812.2,451.3 812.4,454.4 812.6,457.5 812.8,460.6 813.0,463.7 810.0,464.0 809.8,460.8 809.6,457.7 809.4,454.6 809.3,451.5 809.1,448.4 808.9,445.4 808.8,442.3 808.6,439.3 808.4,436.3 808.2,433.3 808.0,430.3 807.8,427.4 807.5,424.5 807.2,421.6 806.8,418.8 806.4,416.0 806.0,413.2 805.5,410.3 804.9,407.5 804.4,404.6 803.7,401.8 803.1,398.9 802.4,396.0 801.7,393.2 800.9,390.3 800.1,387.4 799.3,384.6 798.5,381.7 797.7,378.7 796.9,375.9 796.0,373.1 795.1,370.3 794.2,367.5 793.3,364.8 792.3,362.1 791.3,359.4 790.2,356.7 789.1,354.1 787.9,351.4 786.7,348.6 785.5,345.8 784.3,343.1 783.0,340.4 781.8,337.7 780.5,335.0 779.2,332.4 777.9,329.8 776.6,327.2 775.2,324.6 773.8,322.1 772.4,319.7 770.9,317.3 769.4,314.9 767.8,312.6 766.2,310.2 764.5,308.0 762.8,305.7 761.0,303.5 759.2,301.3 757.4,299.2 755.5,297.1 753.6,295.0 751.5,292.9 749.5,290.9 747.5,289.0 745.4,287.1 743.2,285.2 741.0,283.2 738.8,281.4 736.5,279.5 734.2,277.7 731.9,275.9 729.5,274.1 727.2,272.4 724.8,270.7 722.4,269.0 720.0,267.3 717.5,265.7 715.1,264.1 712.7,262.6 710.3,261.1 707.8,259.7 705.3,258.3 702.7,256.9 700.1,255.6 697.4,254.3 694.8,252.9 692.0,251.6 689.3,250.3 686.5,248.9 683.7,247.5 680.9,246.1 678.1,244.7 675.4,243.3 672.7,241.9 670.0,240.6 667.3,239.3 664.7,238.0 662.1,236.8 659.4,235.6 656.8,234.5 654.2,233.4 651.6,232.5 648.9,231.5 646.4,230.8 643.8,230.0 641.1,229.4 638.3,228.8 635.5,228.3 632.6,227.8 629.8,227.3 626.9,226.9 623.9,226.5 620.9,226.1 617.9,225.7 614.8,225.3 611.7,224.9 608.6,224.5 605.5,224.0 602.3,223.5" fill="#e6e6e6" opacity="1"/>
<polygon points="602.3,223.5 605.5,224.0 608.6,224.5 611.7,224.9 614.8,225.3 617.9,225.7 620.9,226.1 623.9,226.5 626.9,226.9 629.8,227.3 632.6,227.8 635.5,228.3 638.3,228.8 641.1,229.4 643.8,230.0 646.4,230.8 648.9,231.5 651.6,232.5 654.2,233.4 656.8,234.5 659.4,235.6 662.1,236.8 664.7,238.0 667.3,239.3 670.0,240.6 672.7,241.9 675.4,243.3 678.1,244.7 680.9,246.1 683.7,247.5 686.5,248.9 689.3,250.3 692.0,251.6 694.8,252.9 697.4,254.3 700.1,255.6 702.7,256.9 705.3,258.3 707.8,259.7 710.3,261.1 712.7,262.6 715.1,264.1 717.5,265.7 720.0,267.3 722.4,269.0 724.8,270.7 727.2,272.4 729.5,274.1 731.9,275.9 734.2,277.7 736.5,279.5 738.8,281.4 741.0,283.2 743.2,285.2 745.4,287.1 747.5,289.0 749.5,290.9 751.5,292.9 753.6,295.0 755.5,297.1 757.4,299.2 759.2,301.3 761.0,303.5 762.8,305.7 764.5,308.0 766.2,310.2 767.8,312.6 769.4,314.9 770.9,317.3 772.4,319.7 773.8,322.1 775.2,324.6 776.6,327.2 777.9,329.8 779.2,332.4 780.5,335.0 781.8,337.7 783.0,340.4 784.3,343.1 785.5,345.8 786.7,348.6 787.9,351.4 789.1,354.1 790.2,356.7 791.3,359.4 792.3,362.1 793.3,364.8 794.2,367.5 795.1,370.3 796.0,373.1 796.9,375.9 797.7,378.7 798.5,381.7 799.3,384.6 800.1,387.4 800.9,390.3 801.7,393.2 802.4,396.0 803.1,398.9 803.7,401.8 804.4,404.6 804.9,407.5 805.5,410.3 806.0,413.2 806.4,416.0 806.8,418.8 807.2,421.6 807.5,424.5 807.8,427.4 808.0,430.3 808.2,433.3 808.4,436.3 808.6,439.3 808.8,442.3 808.9,445.4 809.1,448.4 809.3,451.5 809.4,454.6 809.6,457.7 809.8,460.8 810.0,464.0 807.3,464.2 807.1,461.0 806.9,457.9 806.7,454.7 806.6,451.6 806.4,448.6 806.3,445.5 806.1,442.5 805.9,439.5 805.7,436.5 805.6,433.5 805.3,430.6 805.1,427.7 804.8,424.8 804.5,422.0 804.2,419.2 803.8,416.4 803.4,413.6 802.9,410.8 802.4,408.0 801.8,405.2 801.2,402.3 800.5,399.5 799.8,396.7 799.1,393.8 798.4,391.0 797.6,388.1 796.8,385.3 796.0,382.4 795.2,379.5 794.4,376.6 793.5,373.8 792.7,371.1 791.8,368.4 790.9,365.7 789.9,363.0 788.9,360.4 787.8,357.7 786.7,355.1 785.6,352.4 784.4,349.7 783.2,346.9 781.9,344.2 780.7,341.5 779.5,338.8 778.2,336.2 776.9,333.5 775.6,330.9 774.3,328.4 773.0,325.9 771.6,323.4 770.2,321.0 768.8,318.7 767.3,316.4 765.7,314.0 764.1,311.7 762.5,309.5 760.8,307.3 759.1,305.1 757.3,303.0 755.5,300.8 753.7,298.8 751.7,296.8 749.8,294.7 747.8,292.7 745.8,290.8 743.7,288.9 741.6,287.1 739.4,285.1 737.2,283.3 734.9,281.5 732.7,279.7 730.4,277.9 728.0,276.1 725.7,274.4 723.4,272.7 721.0,271.0 718.6,269.3 716.2,267.7 713.8,266.2 711.4,264.7 709.1,263.3 706.6,261.8 704.1,260.5 701.6,259.1 699.0,257.8 696.4,256.4 693.7,255.1 691.0,253.8 688.2,252.4 685.4,251.1 682.6,249.7 679.8,248.3 677.0,246.9 674.3,245.5 671.6,244.1 668.9,242.7 666.3,241.4 663.7,240.2 661.1,239.0 658.4,237.8 655.9,236.7 653.3,235.7 650.8,234.7 648.2,233.8 645.7,233.0 643.2,232.4 640.6,231.7 637.8,231.1 635.1,230.6 632.3,230.1 629.4,229.7 626.6,229.2 623.6,228.8 620.6,228.4 617.6,228.1 614.5,227.7 611.4,227.2 608.3,226.8 605.1,226.3 601.9,225.8" fill="#b4b4b4" opacity="1"/>
<g stroke="#6e6e6e" stroke-width="1.3" opacity="0.85"><line x1="607.0" y1="200.7" x2="603.0" y2="225.6"/><line x1="612.9" y1="201.5" x2="609.5" y2="226.6"/><line x1="619.0" y1="202.3" x2="615.9" y2="227.4"/><line x1="625.3" y1="203.0" x2="622.1" y2="228.3"/><line x1="631.8" y1="203.8" x2="628.2" y2="229.1"/><line x1="638.3" y1="204.8" x2="634.1" y2="230.0"/><line x1="645.1" y1="206.1" x2="639.7" y2="231.1"/><line x1="651.9" y1="207.7" x2="645.1" y2="232.5"/><line x1="658.8" y1="209.8" x2="650.3" y2="234.1"/><line x1="665.2" y1="212.2" x2="655.6" y2="236.2"/><line x1="671.5" y1="214.8" x2="660.9" y2="238.4"/><line x1="677.6" y1="217.6" x2="666.3" y2="241.0"/><line x1="683.4" y1="220.4" x2="671.8" y2="243.7"/><line x1="689.1" y1="223.3" x2="677.3" y2="246.6"/><line x1="694.6" y1="226.0" x2="683.1" y2="249.5"/><line x1="700.2" y1="228.7" x2="688.8" y2="252.3"/><line x1="705.9" y1="231.4" x2="694.4" y2="255.0"/><line x1="711.8" y1="234.3" x2="699.9" y2="257.8"/><line x1="717.7" y1="237.3" x2="705.1" y2="260.5"/><line x1="723.6" y1="240.6" x2="710.2" y2="263.4"/><line x1="729.4" y1="244.1" x2="715.1" y2="266.5"/><line x1="735.0" y1="247.8" x2="720.0" y2="269.8"/><line x1="740.4" y1="251.6" x2="724.9" y2="273.3"/><line x1="745.8" y1="255.5" x2="729.7" y2="276.9"/><line x1="751.0" y1="259.5" x2="734.4" y2="280.5"/><line x1="756.2" y1="263.6" x2="739.0" y2="284.3"/><line x1="761.4" y1="268.0" x2="743.5" y2="288.1"/><line x1="766.4" y1="272.6" x2="747.7" y2="292.1"/><line x1="771.3" y1="277.4" x2="751.8" y2="296.2"/><line x1="776.0" y1="282.4" x2="755.7" y2="300.4"/><line x1="780.5" y1="287.6" x2="759.4" y2="304.8"/><line x1="784.7" y1="293.0" x2="762.9" y2="309.3"/><line x1="788.7" y1="298.5" x2="766.2" y2="314.0"/><line x1="792.5" y1="304.1" x2="769.4" y2="318.9"/><line x1="796.1" y1="310.1" x2="772.3" y2="323.7"/><line x1="799.4" y1="316.0" x2="775.0" y2="328.8"/><line x1="802.5" y1="321.9" x2="777.7" y2="334.2"/><line x1="805.3" y1="327.8" x2="780.3" y2="339.6"/><line x1="808.1" y1="333.7" x2="782.9" y2="345.2"/><line x1="810.8" y1="339.5" x2="785.4" y2="350.8"/><line x1="813.4" y1="345.5" x2="787.7" y2="356.3"/><line x1="816.0" y1="351.7" x2="789.9" y2="361.8"/><line x1="818.3" y1="358.1" x2="791.9" y2="367.3"/><line x1="820.5" y1="364.5" x2="793.7" y2="372.9"/><line x1="822.4" y1="370.7" x2="795.4" y2="378.7"/><line x1="824.2" y1="376.9" x2="797.1" y2="384.6"/><line x1="826.0" y1="383.1" x2="798.7" y2="390.5"/><line x1="827.7" y1="389.5" x2="800.2" y2="396.4"/><line x1="829.3" y1="395.9" x2="801.6" y2="402.2"/><line x1="830.7" y1="402.4" x2="802.8" y2="408.0"/><line x1="832.0" y1="409.0" x2="803.8" y2="413.8"/><line x1="833.1" y1="415.7" x2="804.7" y2="419.5"/><line x1="833.9" y1="422.4" x2="805.3" y2="425.3"/><line x1="834.5" y1="429.0" x2="805.8" y2="431.3"/><line x1="835.0" y1="435.5" x2="806.2" y2="437.4"/><line x1="835.4" y1="441.9" x2="806.6" y2="443.6"/><line x1="835.8" y1="448.2" x2="806.9" y2="449.8"/><line x1="836.2" y1="454.4" x2="807.3" y2="456.2"/><line x1="836.7" y1="460.5" x2="807.7" y2="462.7"/></g>
<g stroke="#fbfbfb" stroke-width="1.7" opacity="0.9"><line x1="609.8" y1="202.0" x2="606.3" y2="225.9"/><line x1="615.8" y1="202.8" x2="612.8" y2="226.8"/><line x1="622.0" y1="203.6" x2="619.1" y2="227.6"/><line x1="628.4" y1="204.3" x2="625.2" y2="228.4"/><line x1="634.9" y1="205.2" x2="631.2" y2="229.3"/><line x1="641.5" y1="206.3" x2="637.0" y2="230.3"/><line x1="648.2" y1="207.7" x2="642.5" y2="231.5"/><line x1="655.1" y1="209.6" x2="647.8" y2="233.0"/><line x1="661.7" y1="211.8" x2="653.0" y2="234.8"/><line x1="668.0" y1="214.3" x2="658.4" y2="237.0"/><line x1="674.2" y1="217.1" x2="663.7" y2="239.4"/><line x1="680.1" y1="219.9" x2="669.1" y2="242.1"/><line x1="685.8" y1="222.7" x2="674.6" y2="244.9"/><line x1="691.4" y1="225.5" x2="680.3" y2="247.8"/><line x1="697.0" y1="228.2" x2="686.1" y2="250.7"/><line x1="702.6" y1="230.9" x2="691.8" y2="253.4"/><line x1="708.4" y1="233.7" x2="697.3" y2="256.1"/><line x1="714.3" y1="236.6" x2="702.7" y2="258.9"/><line x1="720.2" y1="239.7" x2="707.8" y2="261.7"/><line x1="726.0" y1="243.2" x2="712.8" y2="264.7"/><line x1="731.7" y1="246.8" x2="717.7" y2="267.9"/><line x1="737.2" y1="250.5" x2="722.6" y2="271.3"/><line x1="742.5" y1="254.3" x2="727.5" y2="274.8"/><line x1="747.8" y1="258.2" x2="732.2" y2="278.5"/><line x1="753.0" y1="262.3" x2="736.9" y2="282.2"/><line x1="758.2" y1="266.5" x2="741.4" y2="286.0"/><line x1="763.2" y1="271.0" x2="745.8" y2="289.9"/><line x1="768.1" y1="275.6" x2="750.0" y2="294.0"/><line x1="772.9" y1="280.5" x2="754.0" y2="298.1"/><line x1="777.5" y1="285.5" x2="757.8" y2="302.4"/><line x1="781.8" y1="290.8" x2="761.4" y2="306.9"/><line x1="785.9" y1="296.3" x2="764.8" y2="311.5"/><line x1="789.8" y1="301.8" x2="768.1" y2="316.3"/><line x1="793.6" y1="307.7" x2="771.1" y2="321.0"/><line x1="796.9" y1="313.5" x2="773.9" y2="326.1"/><line x1="800.1" y1="319.4" x2="776.6" y2="331.4"/><line x1="803.0" y1="325.3" x2="779.3" y2="336.8"/><line x1="805.8" y1="331.2" x2="781.8" y2="342.2"/><line x1="808.5" y1="337.0" x2="784.4" y2="347.9"/><line x1="811.2" y1="342.9" x2="786.8" y2="353.5"/><line x1="813.8" y1="349.0" x2="789.1" y2="359.0"/><line x1="816.2" y1="355.3" x2="791.2" y2="364.4"/><line x1="818.5" y1="361.6" x2="793.1" y2="370.0"/><line x1="820.5" y1="367.9" x2="794.8" y2="375.7"/><line x1="822.4" y1="374.1" x2="796.5" y2="381.6"/><line x1="824.1" y1="380.3" x2="798.2" y2="387.5"/><line x1="825.9" y1="386.5" x2="799.8" y2="393.4"/><line x1="827.5" y1="392.9" x2="801.2" y2="399.2"/><line x1="829.0" y1="399.4" x2="802.5" y2="405.0"/><line x1="830.4" y1="405.8" x2="803.6" y2="410.9"/><line x1="831.5" y1="412.5" x2="804.6" y2="416.6"/><line x1="832.5" y1="419.2" x2="805.3" y2="422.3"/><line x1="833.2" y1="425.8" x2="805.9" y2="428.3"/><line x1="833.7" y1="432.3" x2="806.3" y2="434.3"/><line x1="834.2" y1="438.7" x2="806.7" y2="440.5"/><line x1="834.6" y1="445.1" x2="807.1" y2="446.7"/><line x1="835.0" y1="451.3" x2="807.4" y2="453.0"/><line x1="835.4" y1="457.5" x2="807.8" y2="459.4"/></g>
<g stroke="#141414" stroke-width="1.9" stroke-linecap="round"><line x1="604.7" y1="214.7" x2="603.7" y2="221.1"/><line x1="611.0" y1="215.6" x2="610.2" y2="222.1"/><line x1="617.3" y1="216.4" x2="616.5" y2="222.9"/><line x1="623.5" y1="217.2" x2="622.7" y2="223.7"/><line x1="629.7" y1="218.0" x2="628.8" y2="224.5"/><line x1="635.9" y1="219.0" x2="634.8" y2="225.5"/><line x1="642.0" y1="220.1" x2="640.6" y2="226.6"/><line x1="648.1" y1="221.6" x2="646.3" y2="228.0"/><line x1="654.0" y1="223.5" x2="651.8" y2="229.7"/><line x1="659.8" y1="225.6" x2="657.4" y2="231.8"/><line x1="665.6" y1="228.1" x2="662.8" y2="234.2"/><line x1="671.2" y1="230.7" x2="668.3" y2="236.8"/><line x1="676.9" y1="233.5" x2="673.9" y2="239.5"/><line x1="682.5" y1="236.4" x2="679.4" y2="242.4"/><line x1="688.1" y1="239.2" x2="685.2" y2="245.2"/><line x1="693.8" y1="241.9" x2="690.9" y2="248.0"/><line x1="699.5" y1="244.7" x2="696.5" y2="250.8"/><line x1="705.1" y1="247.5" x2="702.0" y2="253.5"/><line x1="710.6" y1="250.4" x2="707.4" y2="256.4"/><line x1="716.1" y1="253.4" x2="712.6" y2="259.3"/><line x1="721.4" y1="256.7" x2="717.7" y2="262.5"/><line x1="726.6" y1="260.2" x2="722.7" y2="265.8"/><line x1="731.7" y1="263.8" x2="727.7" y2="269.4"/><line x1="736.7" y1="267.5" x2="732.6" y2="273.0"/><line x1="741.7" y1="271.3" x2="737.4" y2="276.7"/><line x1="746.6" y1="275.2" x2="742.1" y2="280.6"/><line x1="751.3" y1="279.3" x2="746.7" y2="284.5"/><line x1="755.9" y1="283.5" x2="751.1" y2="288.6"/><line x1="760.3" y1="287.9" x2="755.3" y2="292.8"/><line x1="764.6" y1="292.5" x2="759.3" y2="297.1"/><line x1="768.6" y1="297.2" x2="763.2" y2="301.7"/><line x1="772.4" y1="302.1" x2="766.8" y2="306.3"/><line x1="776.1" y1="307.2" x2="770.3" y2="311.2"/><line x1="779.5" y1="312.4" x2="773.6" y2="316.2"/><line x1="782.7" y1="317.7" x2="776.6" y2="321.2"/><line x1="785.7" y1="323.2" x2="779.4" y2="326.5"/><line x1="788.6" y1="328.8" x2="782.2" y2="332.0"/><line x1="791.3" y1="334.4" x2="784.8" y2="337.5"/><line x1="793.9" y1="340.1" x2="787.4" y2="343.1"/><line x1="796.5" y1="345.9" x2="789.9" y2="348.8"/><line x1="799.0" y1="351.6" x2="792.4" y2="354.4"/><line x1="801.3" y1="357.4" x2="794.6" y2="360.0"/><line x1="803.5" y1="363.3" x2="796.6" y2="365.6"/><line x1="805.4" y1="369.2" x2="798.5" y2="371.4"/><line x1="807.2" y1="375.2" x2="800.3" y2="377.2"/><line x1="809.0" y1="381.2" x2="802.0" y2="383.2"/><line x1="810.7" y1="387.3" x2="803.6" y2="389.2"/><line x1="812.3" y1="393.3" x2="805.2" y2="395.1"/><line x1="813.7" y1="399.4" x2="806.6" y2="401.1"/><line x1="815.0" y1="405.5" x2="807.8" y2="407.0"/><line x1="816.2" y1="411.7" x2="808.9" y2="412.9"/><line x1="817.1" y1="417.8" x2="809.8" y2="418.8"/><line x1="817.8" y1="424.1" x2="810.5" y2="424.8"/><line x1="818.4" y1="430.3" x2="811.0" y2="430.9"/><line x1="818.8" y1="436.5" x2="811.4" y2="437.0"/><line x1="819.2" y1="442.8" x2="811.8" y2="443.3"/><line x1="819.6" y1="449.1" x2="812.1" y2="449.5"/><line x1="820.0" y1="455.4" x2="812.5" y2="455.9"/><line x1="820.4" y1="461.7" x2="812.9" y2="462.3"/></g>
<g fill="#111"><circle cx="606.0" cy="206.7" r="1.25"/><circle cx="612.1" cy="207.6" r="1.25"/><circle cx="618.3" cy="208.4" r="1.25"/><circle cx="624.5" cy="209.1" r="1.25"/><circle cx="630.9" cy="210.0" r="1.25"/><circle cx="637.3" cy="210.9" r="1.25"/><circle cx="643.8" cy="212.1" r="1.25"/><circle cx="650.3" cy="213.7" r="1.25"/><circle cx="656.7" cy="215.7" r="1.25"/><circle cx="662.9" cy="218.0" r="1.25"/><circle cx="668.9" cy="220.6" r="1.25"/><circle cx="674.8" cy="223.3" r="1.25"/><circle cx="680.6" cy="226.1" r="1.25"/><circle cx="686.2" cy="228.9" r="1.25"/><circle cx="691.8" cy="231.7" r="1.25"/><circle cx="697.4" cy="234.4" r="1.25"/><circle cx="703.1" cy="237.1" r="1.25"/><circle cx="708.9" cy="239.9" r="1.25"/><circle cx="714.7" cy="242.9" r="1.25"/><circle cx="720.4" cy="246.1" r="1.25"/><circle cx="726.0" cy="249.6" r="1.25"/><circle cx="731.4" cy="253.1" r="1.25"/><circle cx="736.7" cy="256.8" r="1.25"/><circle cx="741.9" cy="260.6" r="1.25"/><circle cx="747.0" cy="264.6" r="1.25"/><circle cx="752.1" cy="268.6" r="1.25"/><circle cx="757.0" cy="272.9" r="1.25"/><circle cx="761.9" cy="277.3" r="1.25"/><circle cx="766.5" cy="281.9" r="1.25"/><circle cx="771.0" cy="286.7" r="1.25"/><circle cx="775.4" cy="291.7" r="1.25"/><circle cx="779.4" cy="296.9" r="1.25"/><circle cx="783.3" cy="302.2" r="1.25"/><circle cx="786.9" cy="307.7" r="1.25"/><circle cx="790.4" cy="313.4" r="1.25"/><circle cx="793.5" cy="319.1" r="1.25"/><circle cx="796.5" cy="324.9" r="1.25"/><circle cx="799.3" cy="330.6" r="1.25"/><circle cx="802.0" cy="336.4" r="1.25"/><circle cx="804.6" cy="342.2" r="1.25"/><circle cx="807.2" cy="348.1" r="1.25"/><circle cx="809.7" cy="354.2" r="1.25"/><circle cx="811.9" cy="360.3" r="1.25"/><circle cx="814.0" cy="366.5" r="1.25"/><circle cx="815.9" cy="372.7" r="1.25"/><circle cx="817.7" cy="378.8" r="1.25"/><circle cx="819.4" cy="384.9" r="1.25"/><circle cx="821.0" cy="391.1" r="1.25"/><circle cx="822.6" cy="397.4" r="1.25"/><circle cx="824.0" cy="403.7" r="1.25"/><circle cx="825.2" cy="410.1" r="1.25"/><circle cx="826.2" cy="416.6" r="1.25"/><circle cx="827.0" cy="423.1" r="1.25"/><circle cx="827.6" cy="429.6" r="1.25"/><circle cx="828.0" cy="435.9" r="1.25"/><circle cx="828.4" cy="442.3" r="1.25"/><circle cx="828.8" cy="448.6" r="1.25"/><circle cx="829.2" cy="454.8" r="1.25"/><circle cx="829.7" cy="461.0" r="1.25"/></g>
</g>
<g id="rhead" transform="translate(522.5 170.8) rotate(9.4)">
  <rect x="0" y="0" width="90" height="50" rx="2.5" fill="#2e2e2e"/>
  <rect x="0" y="1.2" width="83" height="44.8" fill="url(#rheadV)"/>
  <rect x="0" y="10" width="33" height="26" fill="#ececec"/>
  <rect x="0" y="10" width="33" height="4" fill="#3a3a3a"/>
  <rect x="28" y="10" width="5" height="26" fill="#b8b8b8"/>
  <rect x="38" y="5.5" width="44" height="33" rx="2" fill="url(#rbarrel)"/>
  <rect x="0" y="46" width="83" height="4" fill="#4a4a4a"/>
  <rect x="83" y="1" width="7" height="49" rx="2" fill="url(#rend)"/>
  <path d="M9.5 12 L5.5 35" stroke="#8c1cff" stroke-width="8" fill="none" filter="url(#blur1)"/>
  <path d="M9.2 13 L5.9 33.5" stroke="#f8f0ff" stroke-width="2" fill="none"/>
</g>
<rect x="790.2" y="461.6" width="67.6" height="11.4" rx="2" fill="url(#ringG)"/>
<rect x="790.8" y="472.8" width="66.8" height="428" fill="url(#bodyG2)"/>
<!-- power button -->
<circle cx="837.5" cy="650.5" r="15.5" fill="#f2f2f2"/>
<circle cx="839.5" cy="650" r="12" fill="#2a2a2a"/>
<circle cx="839.5" cy="650" r="9.5" fill="#e6e6e6"/>
<path d="M836 645.5 A5.2 5.2 0 1 0 843 645.5" stroke="#555" stroke-width="1.6" fill="none"/>
<line x1="839.5" y1="642.5" x2="839.5" y2="650" stroke="#555" stroke-width="1.6"/>
<text x="838.2" y="686" font-size="7.5" font-weight="bold" fill="#fff" stroke="#fff" stroke-width="0.35" text-anchor="middle">ON</text>
<rect x="826.5" y="688.7" width="24" height="57" rx="1.5" fill="#2b2b2b" stroke="#555" stroke-width="0.8"/>
<rect x="828.5" y="690.5" width="20" height="44" fill="#1a1a1a"/>
<rect x="826.5" y="735" width="24" height="11" fill="#3a3a3a"/>
<path d="M832 705 L838.5 695 L845 705 M832 722 L838.5 732 L845 722 M832 711 H845 M832 714 H845 M832 717 H845" stroke="#666" stroke-width="0.9" fill="none"/>
<text x="838.7" y="756.5" font-size="7.5" font-weight="bold" fill="#fff" stroke="#fff" stroke-width="0.35" text-anchor="middle">OFF</text>
<circle cx="838.7" cy="768.7" r="6" fill="url(#ledG)"/><circle cx="838.7" cy="783.3" r="6" fill="url(#ledG)"/><circle cx="838.7" cy="798" r="6" fill="url(#ledG)"/><circle cx="838.7" cy="812" r="6" fill="url(#ledG)"/><circle cx="838.7" cy="825.4" r="6" fill="url(#ledG)"/>

</svg>
</body></html>
